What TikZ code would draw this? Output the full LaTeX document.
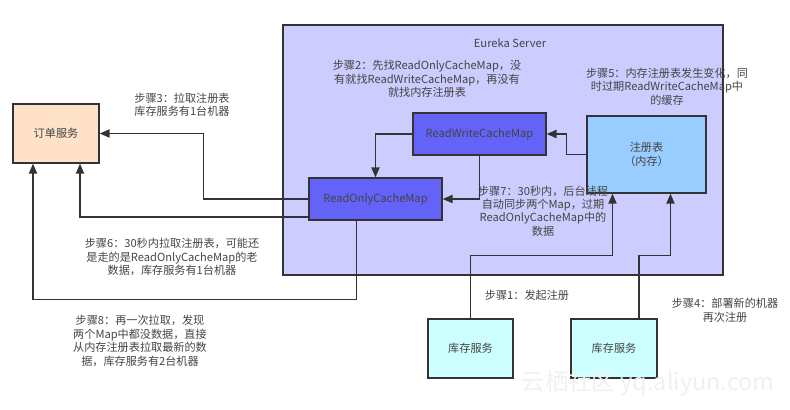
\documentclass[tikz,border=0pt]{standalone}
\usepackage{fontspec}
\setmainfont{Noto Sans CJK SC}
\usetikzlibrary{calc,arrows.meta}

\definecolor{serverbg}{HTML}{CCCCFF}
\definecolor{mapbg}{HTML}{6363F7}
\definecolor{regbg}{HTML}{99CCFF}
\definecolor{orderbg}{HTML}{FFE2C8}
\definecolor{stockbg}{HTML}{CCFFFF}
\definecolor{linegray}{HTML}{333333}
\definecolor{textgray}{HTML}{444444}

\begin{document}
\begin{tikzpicture}[>={Triangle[length=8.5pt,width=7pt]}, x=0.03cm, y=-0.03cm,
	box/.style={draw=linegray, line width=1.1pt, inner sep=0pt, text=textgray,
		align=center, font=\fontsize{9.5}{11.5}\selectfont},
	note/.style={text=textgray, align=center, inner sep=0pt,
		font=\fontsize{9.5}{11.5}\selectfont},
	conn/.style={->, draw=linegray, line width=1.1pt}]
	\useasboundingbox (0,0) rectangle (790,409);
	
	% 1. Khung Eureka Server
	\node[box, fill=serverbg, minimum width=13.2cm, minimum height=7.5cm] (server) at (503,150) {};
	\node[note] (servername) at (510,43) {Eureka Server};
	
	% 2. Các hộp bên trong server
	\node[box, fill=mapbg, minimum width=3.99cm, minimum height=1.26cm] (rw) at (479.5,134) {ReadWriteCacheMap};
	\node[box, fill=mapbg, minimum width=3.99cm, minimum height=1.26cm] (ro) at (375.5,199) {ReadOnlyCacheMap};
	\node[box, fill=regbg, minimum width=3.57cm, minimum height=2.31cm] (reg) at (646.5,154.5) {注册表\\（内存）};
	
	% 3. Các dịch vụ bên ngoài
	\node[box, fill=orderbg, minimum width=2.58cm, minimum height=1.77cm] (order) at (56,133.5) {订单服务};
	\node[box, fill=stockbg, minimum width=2.55cm, minimum height=1.77cm] (stock1) at (470.5,348.5) {库存服务};
	\node[box, fill=stockbg, minimum width=2.58cm, minimum height=1.77cm] (stock2) at (614,348.5) {库存服务};
	
	% 4. Các ghi chú từng bước
	\node[note] (step1) at (527,295) {步骤1：发起注册};
	\node[note] (step2) at (427,79) {步骤2：先找ReadOnlyCacheMap，没\\有就找ReadWriteCacheMap，再没有\\就找内存注册表};
	\node[note] (step3) at (182,104.5) {步骤3：拉取注册表\\库存服务有1台机器};
	\node[note] (step4) at (725,310.5) {步骤4：部署新的机器\\再次注册};
	\node[note] (step5) at (667,86.5) {步骤5：内存注册表发生变化，同\\时过期ReadWriteCacheMap中\\的缓存};
	\node[note] (step6) at (172,257) {步骤6：30秒内拉取注册表，可能还\\是走的是ReadOnlyCacheMap的老\\数据，库存服务有1台机器};
	\node[note] (step7) at (543,211) {步骤7：30秒内，后台线程\\自动同步两个Map，过期\\ReadOnlyCacheMap中的\\数据};
	\node[note] (step8) at (140,341) {步骤8：再一次拉取，发现\\两个Map中都没数据，直接\\从内存注册表拉取最新的数\\据，库存服务有2台机器};
	
	% 5. Các mũi tên
	\draw[conn] (reg.west) -- ++(-20,0) |- (rw.east);
	\draw[conn] (rw.west) -| (ro.north);
	\draw[conn] (rw.south) |- (ro.east);
	\draw[conn] (ro.west) -- ++(-105,0) |- (order.east);
	\draw[conn] ($(ro.west)+(0,18)$) -| ($(order.south)+(24,0)$);
	\draw[conn] ($(ro.south)+(-19,0)$) -- ++(0,79) -| ($(order.south)+(-23,0)$);
	\draw[conn] (stock1.north) -- ++(0,-63) -| ($(reg.south)+(-34,0)$);
	\draw[conn] ($(stock2.north)+(25,0)$) -- ++(0,-63) -| ($(reg.south)+(24,0)$);
	
	% 6. Watermark
	\node[text=black!6, inner sep=0pt, font=\fontsize{20}{20}\selectfont] (wmark) at (648,383) {云栖社区 yq.aliyun.com};
	
\end{tikzpicture}
\end{document}
